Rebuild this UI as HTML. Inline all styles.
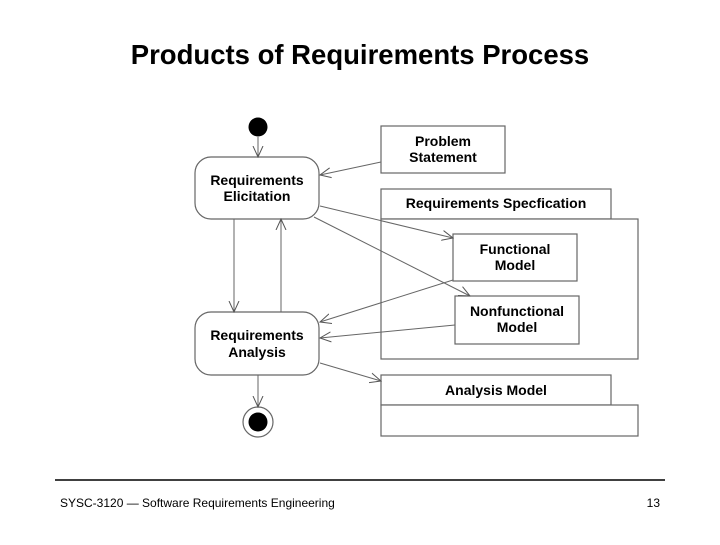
<!DOCTYPE html>
<html><head><style>
body{margin:0;width:720px;height:540px;background:#fff;overflow:hidden;font-family:"Liberation Sans",Arial,sans-serif}
</style></head><body>
<svg width="720" height="540" viewBox="0 0 720 540" xmlns="http://www.w3.org/2000/svg" font-family="Liberation Sans, Arial, sans-serif">
<defs><marker id="a" viewBox="0 0 12 12" refX="11" refY="6" markerWidth="12" markerHeight="12" markerUnits="userSpaceOnUse" orient="auto"><path d="M0,1 L11,6 L0,11" fill="none" stroke="#555" stroke-width="1"/></marker></defs>
<text x="360" y="64" text-anchor="middle" font-size="27.5" font-weight="bold">Products of Requirements Process</text>
<g stroke="#666" stroke-width="1.2" fill="#fff">
<rect x="195" y="157" width="124" height="62" rx="16"/>
<rect x="195" y="312" width="124" height="63" rx="16"/>
<rect x="381" y="126" width="124" height="47"/>
<rect x="381" y="189" width="230" height="30"/>
<rect x="381" y="219" width="257" height="140"/>
<rect x="453" y="234" width="124" height="47"/>
<rect x="455" y="296" width="124" height="48"/>
<rect x="381" y="375" width="230" height="30"/>
<rect x="381" y="405" width="257" height="31"/>
<circle cx="258" cy="422" r="15"/>
</g>
<circle cx="258" cy="127" r="9.5" fill="#000"/>
<circle cx="258" cy="422" r="9.5" fill="#000"/>
<g stroke="#666" stroke-width="1" fill="none" marker-end="url(#a)">
<line x1="258" y1="137" x2="258" y2="157"/>
<line x1="381" y1="162" x2="320" y2="175"/>
<line x1="320" y1="206" x2="453" y2="238"/>
<line x1="314" y1="217" x2="470" y2="296"/>
<line x1="453" y1="280" x2="320" y2="322"/>
<line x1="455" y1="325" x2="320" y2="338"/>
<line x1="320" y1="363" x2="381" y2="381"/>
<line x1="234" y1="219" x2="234" y2="312"/>
<line x1="281" y1="312" x2="281" y2="219"/>
<line x1="258" y1="375" x2="258" y2="407"/>
</g>
<g font-size="14" font-weight="bold" text-anchor="middle" fill="#000">
<text x="257" y="185">Requirements</text><text x="257" y="201">Elicitation</text>
<text x="257" y="340">Requirements</text><text x="257" y="357">Analysis</text>
<text x="443" y="146">Problem</text><text x="443" y="162">Statement</text>
<text x="496" y="208">Requirements Specfication</text>
<text x="515" y="254">Functional</text><text x="515" y="270">Model</text>
<text x="517" y="316">Nonfunctional</text><text x="517" y="332">Model</text>
<text x="496" y="395">Analysis Model</text>
</g>
<line x1="55" y1="480" x2="665" y2="480" stroke="#000" stroke-width="1.5"/>
<text x="60" y="507" font-size="12">SYSC-3120 — Software Requirements Engineering</text>
<text x="660" y="507" font-size="12" text-anchor="end">13</text>
</svg>
</body></html>
